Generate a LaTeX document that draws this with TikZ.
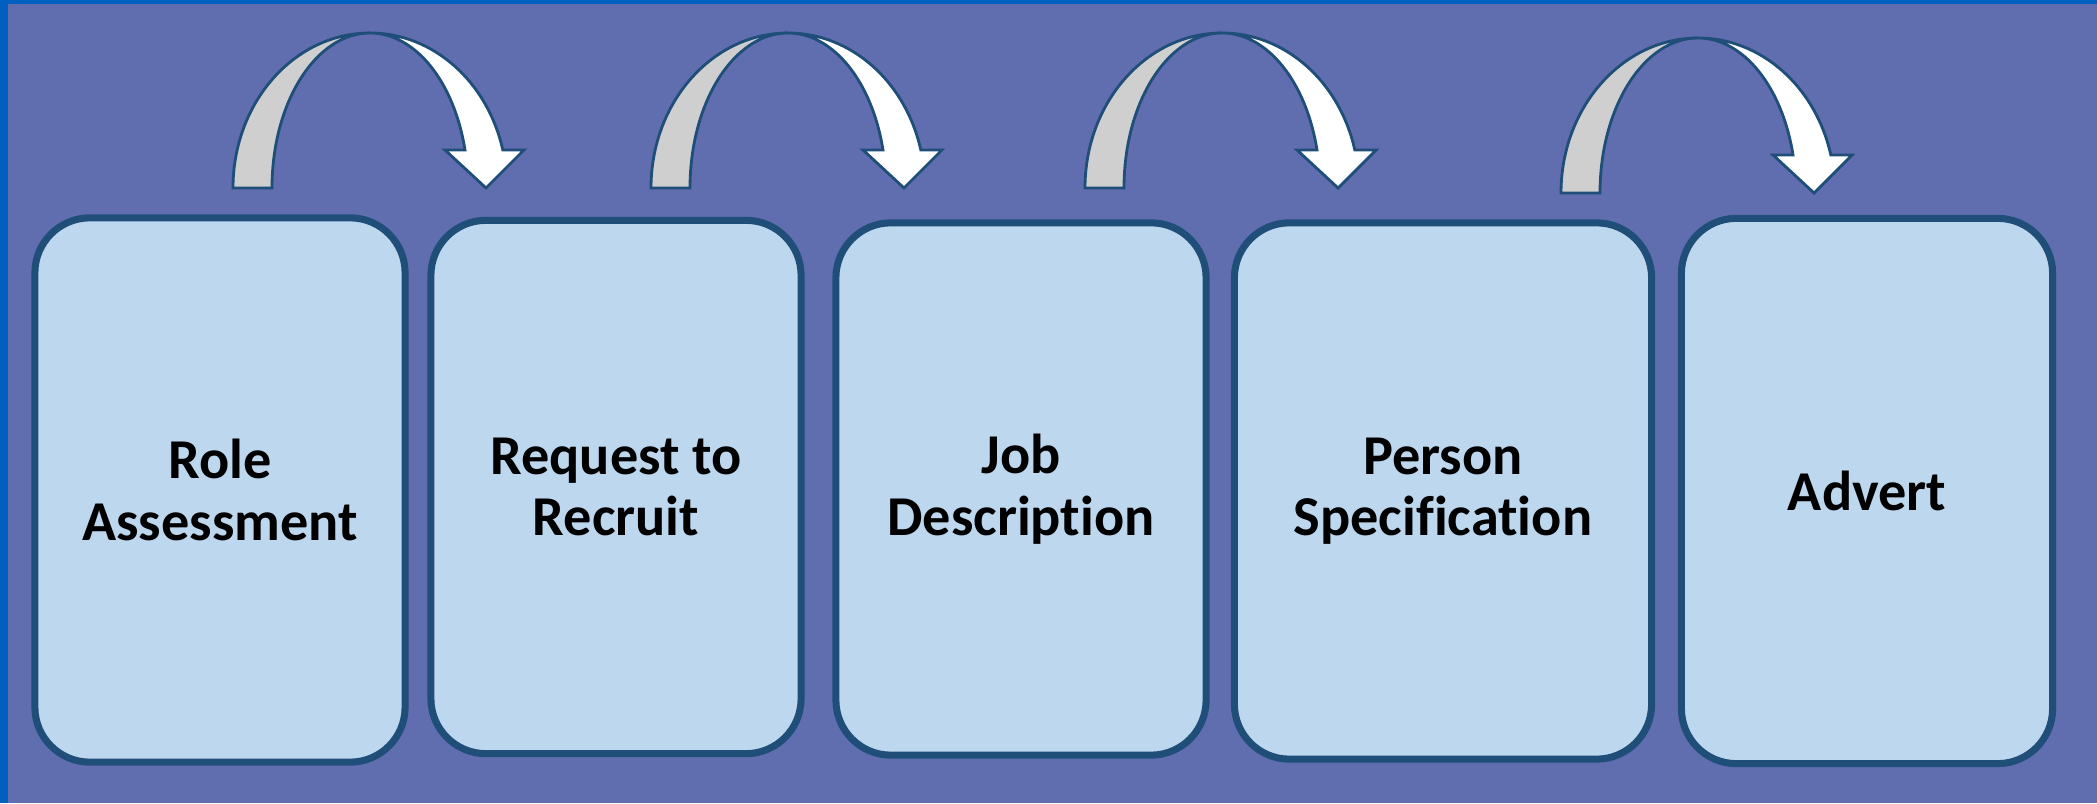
\documentclass[tikz,border=0pt]{standalone}
\usepackage{fontspec}
\setmainfont{Carlito}[Ligatures=NoCommon]
\usepackage{tikz}

\definecolor{backdrop}{RGB}{96,110,176}
\definecolor{frameblue}{RGB}{0,96,192}
\definecolor{boxfill}{RGB}{189,215,238}
\definecolor{boxline}{RGB}{31,78,121}
\definecolor{hopback}{RGB}{207,207,207}

\begin{document}
\begin{tikzpicture}[x=0.01cm, y=0.01cm,
    main/.style = {draw=boxline, line width=2pt, fill=boxfill, rounded corners=0.55cm,
        minimum width=3.7cm, align=center, text=black,
        font=\bfseries\fontsize{16}{17.5}\selectfont},
    hop/.pic = {
        % back of the bent arrow
        \draw[boxline, line width=0.8pt, fill=hopback] (-137,0)
            arc[start angle=180, end angle=90, x radius=137, y radius=155]
            arc[start angle=90, end angle=180, x radius=98, y radius=155] -- cycle;
        % front of the bent arrow with its head
        \draw[boxline, line width=0.8pt, fill=white] (0,155)
            arc[start angle=90, end angle=14.19, x radius=137, y radius=155]
            -- (154,38) -- (116,0) -- (75,38) -- (95,38)
            arc[start angle=14.19, end angle=90, x radius=98, y radius=155] -- cycle;
    }]
% [line width=2pt, rounded corners, fill=boxfill]
    \useasboundingbox (0,0) rectangle (2097,803);
    \fill[backdrop] (0,0) rectangle (2097,803);
    \fill[frameblue] (0,0) rectangle (8,803);
    \fill[frameblue] (0,799) rectangle (2097,803);

    \node[main, minimum height=5.44cm] (1) at (220,313) {Role\\Assessment};
    \node[main, minimum height=5.33cm] (2) at (616,316) {Request to\\Recruit};
    \node[main, minimum height=5.32cm] (3) at (1021,314) {Job\\Description};
    \node[main, minimum height=5.36cm, minimum width=4.17cm] (4) at (1443,312) {Person\\Specification};
    \node[main, minimum height=5.45cm, minimum width=3.71cm] (5) at (1867,312) {Advert};

\pic at (370,615) {hop};
\pic at (788,615) {hop};
\pic at (1222,615) {hop};
\pic at (1698,610) {hop};
\end{tikzpicture}
\end{document}
